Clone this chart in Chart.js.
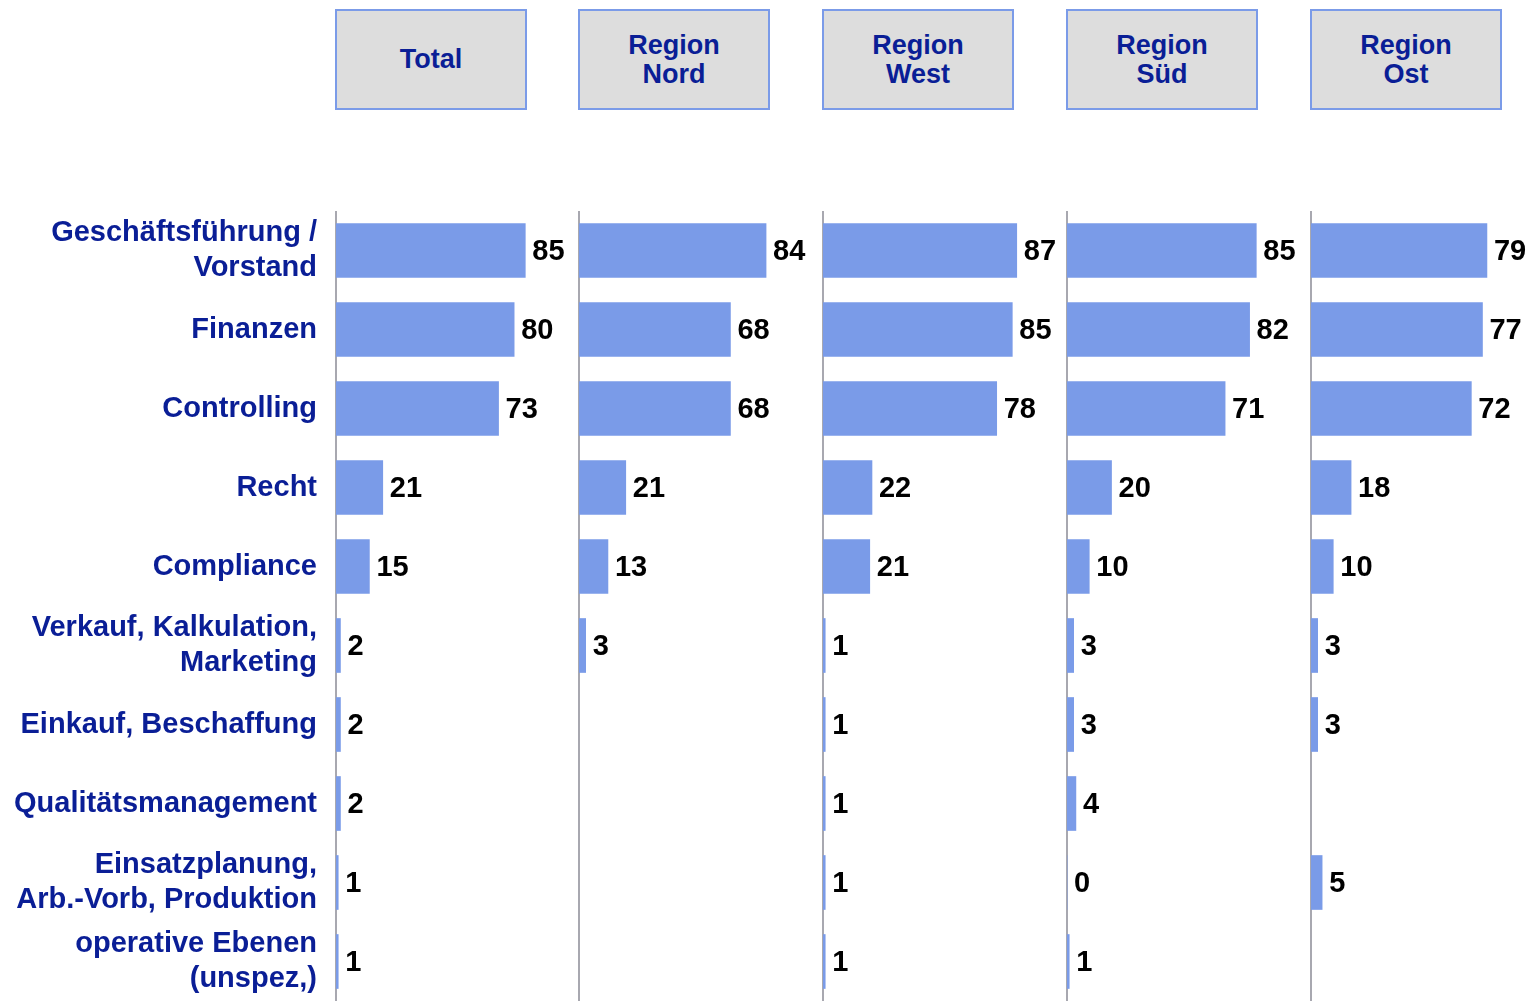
<!DOCTYPE html>
<html>
<head>
<meta charset="utf-8">
<script src="https://cdn.jsdelivr.net/npm/chart.js@4.4.1/dist/chart.umd.min.js"></script>
<style>
  body { margin: 0; background: #fff; width: 1531px; height: 1001px; overflow: hidden; position: relative;
         font-family: "Liberation Sans", Arial, sans-serif; }
  .head { position: absolute; top: 9px; width: 188px; height: 97px; border: 2px solid #7b9be8; background: #dddddd;
          color: #0a1e96; font-weight: bold; font-size: 27px; line-height: 29px; white-space: pre-line;
          display: flex; align-items: center; justify-content: center; text-align: center; }
  canvas { position: absolute; top: 211px; }
</style>
</head>
<body>
<script>
// Funktionsbereiche (Kategorien) und Werte je Region
var kategorien = [
    ['Geschäftsführung /', 'Vorstand'],
    'Finanzen',
    'Controlling',
    'Recht',
    'Compliance',
    ['Verkauf, Kalkulation,', 'Marketing'],
    'Einkauf, Beschaffung',
    'Qualitätsmanagement',
    ['Einsatzplanung,', 'Arb.-Vorb, Produktion'],
    ['operative Ebenen', '(unspez,)']
];
var regionen = ['Total', 'Region\nNord', 'Region\nWest', 'Region\nSüd', 'Region\nOst'];

var total = [85, 80, 73, 21, 15, 2, 2, 2, 1, 1];
var nord  = [84, 68, 68, 21, 13, 3, null, null, null, null];
var west  = [87, 85, 78, 22, 21, 1, 1, 1, 1, 1];
var sued  = [85, 82, 71, 20, 10, 3, 3, 4, 0, 1];
var ost   = [79, 77, 72, 18, 10, 3, 3, null, 5, null];

var BLAU = '#7a9be8';
var TEXTBLAU = '#0a1e96';
var ACHSE = '#a8a8b0';
var SCHRIFT = '"Liberation Sans", Arial, sans-serif';
var PX_PRO_EINHEIT = 2.227;   // gleiche Skala in allen Feldern

// Panels: canvas left, canvas width, y-axis width
var panels = [
    { daten: total, left: 0,    width: 579, achse: 336 },
    { daten: nord,  left: 575,  width: 248, achse: 4 },
    { daten: west,  left: 819,  width: 248, achse: 4 },
    { daten: sued,  left: 1063, width: 248, achse: 4 },
    { daten: ost,   left: 1307, width: 224, achse: 4 }
];

// Werte rechts neben die Balken schreiben
var wertLabels = {
    id: 'wertLabels',
    afterDatasetsDraw: function (chart) {
        var ctx = chart.ctx;
        var ds = chart.data.datasets[0];
        var meta = chart.getDatasetMeta(0);
        ctx.save();
        ctx.font = 'bold 29px ' + SCHRIFT;
        ctx.fillStyle = '#000';
        ctx.textAlign = 'left';
        ctx.textBaseline = 'middle';
        meta.data.forEach(function (bar, i) {
            var v = ds.data[i];
            if (v === null || v === undefined) return;
            ctx.fillText(String(v), bar.x + 7, bar.y + 1);
        });
        ctx.restore();
    }
};

function panel_grafico(p, idx) {
    var head = document.createElement('div');
    head.className = 'head';
    head.style.left = (idx === 0 ? 335 : p.left + p.achse - 1) + 'px';
    head.textContent = regionen[idx];
    document.body.appendChild(head);

    var canvas = document.createElement('canvas');
    canvas.width = p.width;
    canvas.height = 790;
    canvas.style.left = p.left + 'px';
    document.body.appendChild(canvas);

    var flaeche = p.width - p.achse;
    new Chart(canvas.getContext('2d'), {
        type: 'bar',
        data: {
            labels: kategorien,
            datasets: [{
                data: p.daten,
                backgroundColor: BLAU,
                borderWidth: 0,
                barThickness: 54
            }]
        },
        options: {
            indexAxis: 'y',
            responsive: false,
            animation: false,
            layout: { padding: 0 },
            plugins: {
                legend: { display: false },
                tooltip: { enabled: false }
            },
            scales: {
                x: {
                    display: false,
                    min: 0,
                    max: flaeche / PX_PRO_EINHEIT
                },
                y: {
                    z: 1,
                    grid: { display: false, drawTicks: false },
                    border: { display: true, color: ACHSE, width: 2 },
                    ticks: {
                        display: idx === 0,
                        autoSkip: false,
                        padding: 19,
                        color: TEXTBLAU,
                        font: { family: SCHRIFT, size: 29, weight: 'bold', lineHeight: 1.2 }
                    },
                    afterFit: function (scale) {
                        scale.width = p.achse;
                        scale.paddingTop = 0;
                        scale.paddingBottom = 0;
                    }
                }
            }
        },
        plugins: [wertLabels]
    });
}

panels.forEach(panel_grafico);
</script>
</body>
</html>
